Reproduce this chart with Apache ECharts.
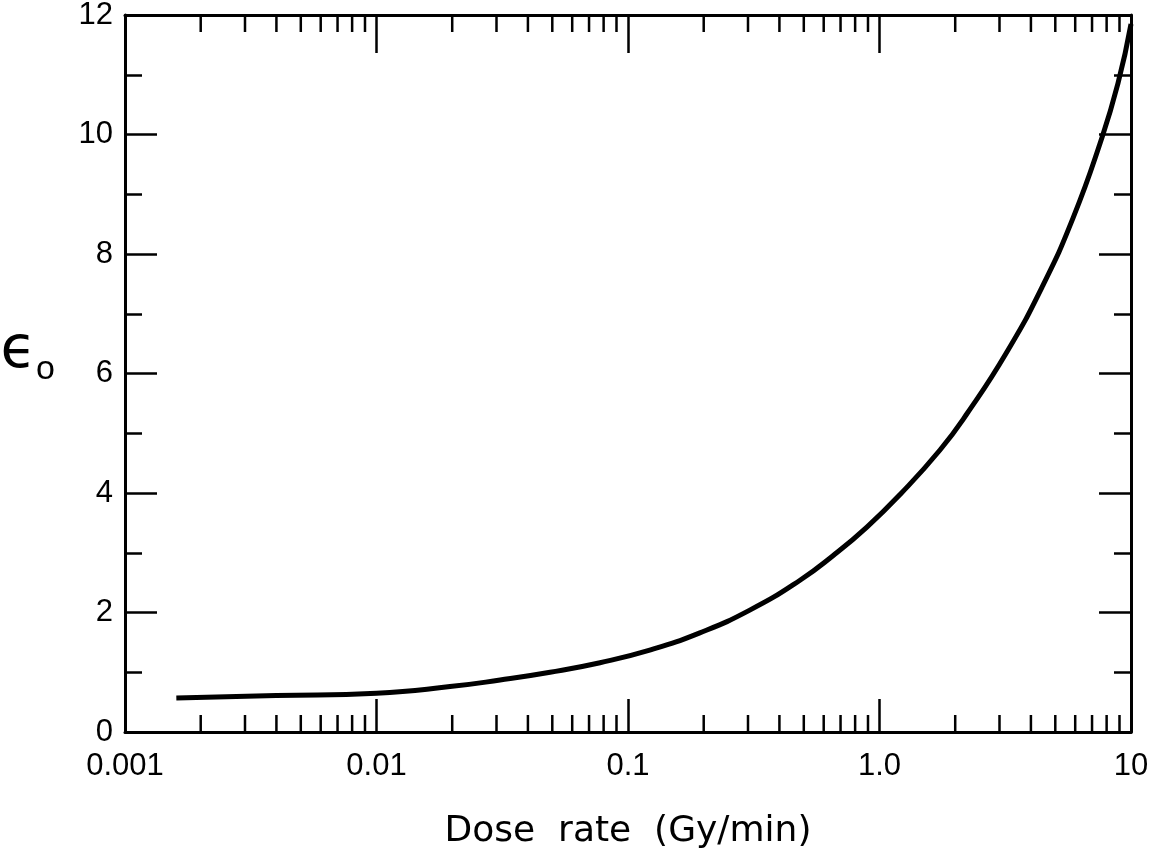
<!DOCTYPE html>
<html>
<head>
<meta charset="utf-8">
<script src="https://cdn.jsdelivr.net/npm/echarts@6/dist/echarts.min.js"></script>
<style>
  html, body { margin: 0; padding: 0; background: #fff; }
  #main { width: 1153px; height: 862px; }
</style>
</head>
<body>
<div id="main"></div>
<script>
// curve: dose rate (Gy/min) vs epsilon_0
const doseRate = [0.0016, 0.004, 0.01, 0.0196, 0.031, 0.049, 0.0774, 0.122, 0.193, 0.305,
                  0.483, 0.653, 0.891, 1.21, 1.74, 2.23, 3.21, 4.47, 5.88, 7.53, 8.87, 10];
const epsilon0 = [0.57, 0.61, 0.65, 0.76, 0.87, 1.0, 1.16, 1.37, 1.66, 2.04,
                  2.54, 2.95, 3.43, 3.98, 4.72, 5.33, 6.36, 7.48, 8.6, 9.85, 10.85, 11.85];

// axis ticks
const xTickValues = [0.001, 0.01, 0.1, 1, 10];
const xTickLabels = ['0.001', '0.01', '0.1', '1.0', '10'];
const decades = [0.001, 0.01, 0.1, 1];
const minorSteps = [2, 3, 4, 5, 6, 7, 8, 9];

const minorTicks = [];
decades.forEach(d => minorSteps.forEach(m => minorTicks.push([+(d * m).toPrecision(3), 0])));

const chartDom = document.getElementById('main');
const myChart = echarts.init(chartDom);

const labelFont = {
    color: '#000',
    fontSize: 31,
    fontFamily: 'Liberation Sans, Arial, sans-serif'
};

function xLabel(v) {
    for (let i = 0; i < xTickValues.length; i++) {
        if (Math.abs(Math.log10(v) - Math.log10(xTickValues[i])) < 1e-6) return xTickLabels[i];
    }
    return '';
}

const option = {
    backgroundColor: '#fff',
    animation: false,
    grid: {
        left: 125,
        right: 22,
        top: 15,
        bottom: 130,
        containLabel: false,
        outerBoundsMode: 'none'
    },
    xAxis: [
        {
            type: 'log',
            logBase: 10,
            min: 0.001,
            max: 10,
            splitNumber: 4,
            name: 'Dose  rate  (Gy/min)',
            nameLocation: 'middle',
            nameGap: 82,
            nameTextStyle: {
                color: '#000',
                fontSize: 36,
                fontFamily: 'DejaVu Sans, sans-serif'
            },
            axisLine: {onZero: false, lineStyle: {color: '#000', width: 3}},
            axisTick: {inside: true, length: 33, lineStyle: {color: '#000', width: 2.5}},
            axisLabel: Object.assign({margin: 19, formatter: xLabel}, labelFont),
            splitLine: {show: false}
        },
        {
            type: 'log',
            logBase: 10,
            position: 'top',
            min: 0.001,
            max: 10,
            splitNumber: 4,
            axisLine: {onZero: false, lineStyle: {color: '#000', width: 3}},
            axisTick: {inside: true, length: 38, lineStyle: {color: '#000', width: 2.5}},
            axisLabel: {show: false},
            splitLine: {show: false}
        }
    ],
    yAxis: [
        {
            type: 'value',
            min: 0,
            max: 12,
            interval: 2,
            name: '{e|ϵ}{s|o}',
            nameLocation: 'middle',
            nameRotate: 0,
            nameGap: 70,
            nameTextStyle: {
                color: '#000',
                padding: [0, 0, 44, 0],
                rich: {
                    e: {fontSize: 58, fontFamily: 'DejaVu Sans, sans-serif', color: '#000'},
                    s: {fontSize: 34, fontFamily: 'Liberation Sans, sans-serif', color: '#000',
                        verticalAlign: 'bottom', padding: [0, 0, -6, 0]}
                }
            },
            axisLine: {onZero: false, lineStyle: {color: '#000', width: 3}},
            axisTick: {inside: true, length: 32, lineStyle: {color: '#000', width: 2.5}},
            minorTick: {show: true, splitNumber: 2, length: 17, lineStyle: {color: '#000', width: 2.5}},
            axisLabel: Object.assign({margin: 12}, labelFont),
            splitLine: {show: false},
            minorSplitLine: {show: false}
        },
        {
            type: 'value',
            position: 'right',
            min: 0,
            max: 12,
            interval: 2,
            axisLine: {show: true, onZero: false, lineStyle: {color: '#000', width: 3}},
            axisTick: {show: true, inside: true, length: 32, lineStyle: {color: '#000', width: 2.5}},
            minorTick: {show: true, splitNumber: 2, length: 17, lineStyle: {color: '#000', width: 2.5}},
            axisLabel: {show: false},
            splitLine: {show: false},
            minorSplitLine: {show: false}
        }
    ],
    series: [
        {
            name: 'epsilon0',
            type: 'line',
            xAxisIndex: 0,
            yAxisIndex: 0,
            smooth: 0.5,
            showSymbol: false,
            data: doseRate.map((x, i) => [x, epsilon0[i]]),
            lineStyle: {color: '#000', width: 5},
            z: 5
        },
        {
            // minor log ticks on bottom and top edges
            name: 'minor ticks',
            type: 'custom',
            xAxisIndex: 0,
            yAxisIndex: 0,
            silent: true,
            clip: false,
            data: minorTicks,
            encode: {x: 0, y: 1},
            renderItem: function (params, api) {
                const v = api.value(0);
                const b = api.coord([v, 0]);
                const t = api.coord([v, 12]);
                const style = {stroke: '#000', lineWidth: 2.5};
                return {
                    type: 'group',
                    children: [
                        {type: 'line', shape: {x1: b[0], y1: b[1], x2: b[0], y2: b[1] - 17}, style: style},
                        {type: 'line', shape: {x1: t[0], y1: t[1], x2: t[0], y2: t[1] + 17}, style: style}
                    ]
                };
            },
            z: 4
        }
    ]
};

option && myChart.setOption(option);
</script>
</body>
</html>
